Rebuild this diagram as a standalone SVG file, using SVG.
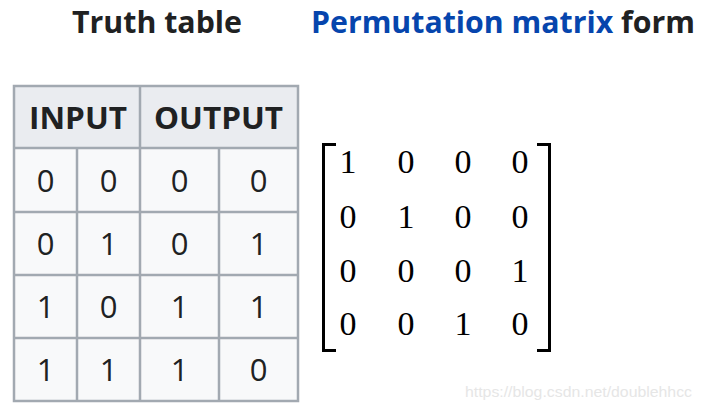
<svg xmlns="http://www.w3.org/2000/svg" width="702" height="410" viewBox="0 0 702 410">
<style>
.title{font-family:"Open Sans","Liberation Sans",sans-serif;font-weight:bold;font-size:31px;fill:#202122}
.link{fill:#0645ad}
.hdr{font-family:"Open Sans","Liberation Sans",sans-serif;font-weight:bold;font-size:31px;fill:#202122;text-anchor:middle}
.cell{font-family:"Open Sans","Liberation Sans",sans-serif;font-size:31px;fill:#202122;text-anchor:middle}
.grid{stroke:#a2a9b1;stroke-width:2.5;fill:none}
.mx{font-family:"Liberation Serif",serif;font-size:34px;fill:#000;text-anchor:middle}
.br{stroke:#000;stroke-width:3;fill:none}
.wm{font-family:"Liberation Sans",Arial,sans-serif;font-size:15px;fill:#e6e6e6}
</style>
<rect width="702" height="410" fill="#ffffff"/>
<g id="titles">
<text class="title" x="72" y="33" textLength="170" lengthAdjust="spacingAndGlyphs">Truth table</text>
<text class="title" x="311" y="33" textLength="384" lengthAdjust="spacingAndGlyphs"><tspan class="link">Permutation matrix</tspan> form</text>
</g>
<g id="truth-table">
<rect x="14" y="86" width="284" height="62" fill="#eaecf0"/>
<rect x="14" y="148" width="284" height="253" fill="#f8f9fa"/>
<g class="grid">
<rect x="14" y="86" width="284" height="315"/>
<line x1="14" y1="148" x2="298" y2="148"/>
<line x1="14" y1="212" x2="298" y2="212"/>
<line x1="14" y1="275" x2="298" y2="275"/>
<line x1="14" y1="338" x2="298" y2="338"/>
<line x1="140" y1="86" x2="140" y2="401"/>
<line x1="77" y1="148" x2="77" y2="401"/>
<line x1="219" y1="148" x2="219" y2="401"/>
</g>
<text class="hdr" x="78" y="129" textLength="98" lengthAdjust="spacingAndGlyphs">INPUT</text>
<text class="hdr" x="218.5" y="129" textLength="129" lengthAdjust="spacingAndGlyphs">OUTPUT</text>
<g>
<text class="cell" x="45.5" y="192">0</text><text class="cell" x="108.5" y="192">0</text><text class="cell" x="179.5" y="192">0</text><text class="cell" x="258.5" y="192">0</text>
<text class="cell" x="45.5" y="255">0</text><text class="cell" x="108.5" y="255">1</text><text class="cell" x="179.5" y="255">0</text><text class="cell" x="258.5" y="255">1</text>
<text class="cell" x="45.5" y="318">1</text><text class="cell" x="108.5" y="318">0</text><text class="cell" x="179.5" y="318">1</text><text class="cell" x="258.5" y="318">1</text>
<text class="cell" x="45.5" y="381">1</text><text class="cell" x="108.5" y="381">1</text><text class="cell" x="179.5" y="381">1</text><text class="cell" x="258.5" y="381">0</text>
</g>
</g>
<g id="matrix">
<path class="br" d="M336,144.5 H323.5 V350.5 H336"/>
<path class="br" d="M537,144.5 H549.5 V350.5 H537"/>
<text class="mx" x="348" y="173">1</text><text class="mx" x="406" y="173">0</text><text class="mx" x="463" y="173">0</text><text class="mx" x="520" y="173">0</text>
<text class="mx" x="348" y="228">0</text><text class="mx" x="406" y="228">1</text><text class="mx" x="463" y="228">0</text><text class="mx" x="520" y="228">0</text>
<text class="mx" x="348" y="282">0</text><text class="mx" x="406" y="282">0</text><text class="mx" x="463" y="282">0</text><text class="mx" x="520" y="282">1</text>
<text class="mx" x="348" y="335">0</text><text class="mx" x="406" y="335">0</text><text class="mx" x="463" y="335">1</text><text class="mx" x="520" y="335">0</text>
</g>
<g id="connectors"></g>
<text class="wm" x="465" y="397" textLength="227" lengthAdjust="spacingAndGlyphs">https://blog.csdn.net/doublehhcc</text>
</svg>
